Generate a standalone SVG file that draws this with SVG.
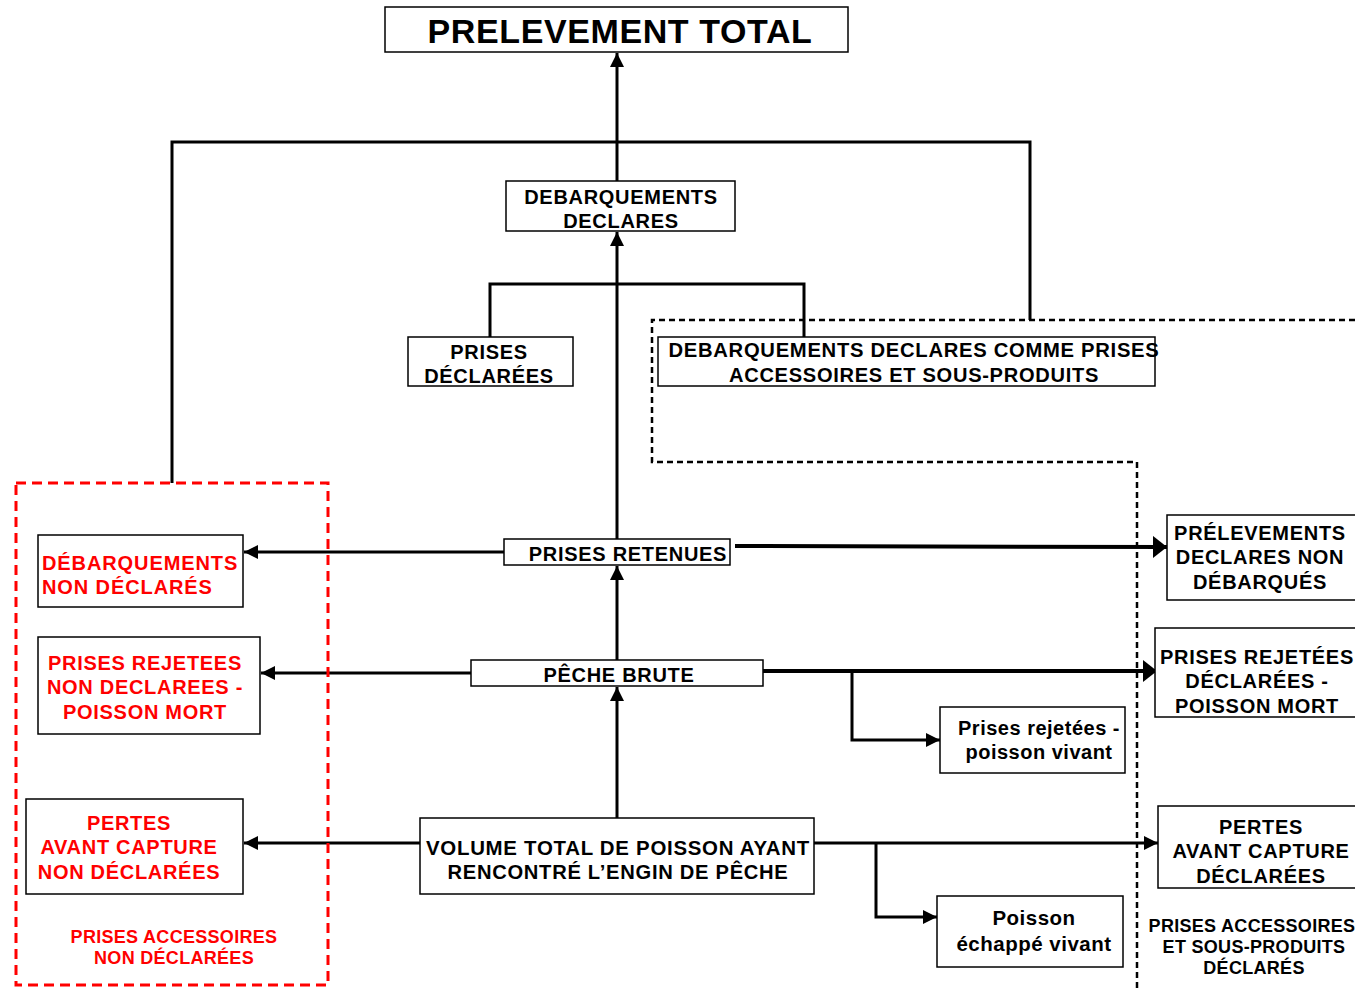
<svg xmlns="http://www.w3.org/2000/svg" width="1355" height="992" viewBox="0 0 1355 992">
<defs>
<style>
.box{fill:#fff;stroke:#000;stroke-width:1.5}
.t{font-family:"Liberation Sans",Arial,sans-serif;font-weight:bold;font-size:20px;fill:#000;text-anchor:middle;letter-spacing:0.7px}
.r{fill:#f00}
.s{font-size:18px;letter-spacing:0.3px}
.l{font-size:20px;letter-spacing:0.5px}
.c{fill:none;stroke:#000;stroke-width:3}
.ct{fill:none;stroke:#000;stroke-width:4}
</style>
<marker id="a" markerUnits="userSpaceOnUse" markerWidth="14" markerHeight="14" refX="14" refY="7" orient="auto" viewBox="0 0 14 14"><path d="M0,0 L14,7 L0,14 z" fill="#000"/></marker>
<marker id="ab" markerUnits="userSpaceOnUse" markerWidth="14" markerHeight="22" refX="14" refY="11" orient="auto" viewBox="0 0 14 22"><path d="M0,0 L14,11 L0,22 z" fill="#000"/></marker>
</defs>
<rect width="1355" height="992" fill="#fff"/>

<g id="connectors">
<line class="c" x1="617" y1="181" x2="617" y2="53" marker-end="url(#a)"/>
<polyline class="c" points="172,483 172,142 1030,142 1030,320"/>
<line class="c" x1="617" y1="539" x2="617" y2="232" marker-end="url(#a)"/>
<polyline class="c" points="490,337 490,284 804,284 804,337"/>
<line class="c" x1="617" y1="660" x2="617" y2="566" marker-end="url(#a)"/>
<line class="c" x1="617" y1="818" x2="617" y2="687" marker-end="url(#a)"/>
<line class="c" x1="504" y1="552" x2="244" y2="552" marker-end="url(#a)"/>
<line class="ct" x1="735" y1="546" x2="1167" y2="547" marker-end="url(#ab)"/>
<line class="c" x1="471" y1="673" x2="261" y2="673" marker-end="url(#a)"/>
<line class="ct" x1="763" y1="671" x2="1157" y2="671" marker-end="url(#ab)"/>
<polyline class="c" points="852,671 852,740 940,740" marker-end="url(#a)"/>
<line class="c" x1="420" y1="843" x2="244" y2="843" marker-end="url(#a)"/>
<line class="c" x1="814" y1="843" x2="1158" y2="843" marker-end="url(#a)"/>
<polyline class="c" points="876,843 876,917 937,917" marker-end="url(#a)"/>
</g>

<g id="zone-declared">
<polyline points="1355,320 652,320 652,462 1137,462 1137,992" fill="none" stroke="#000" stroke-width="2.5" stroke-dasharray="6,4"/>
<text class="t s" x="1252" y="932">PRISES ACCESSOIRES</text>
<text class="t s" x="1254" y="953">ET SOUS-PRODUITS</text>
<text class="t s" x="1254" y="974">DÉCLARÉS</text>
</g>

<g id="zone-undeclared">
<rect x="16" y="483" width="312" height="502" fill="none" stroke="#f00" stroke-width="3" stroke-dasharray="10,6"/>
<text class="t s r" x="174" y="943">PRISES ACCESSOIRES</text>
<text class="t s r" x="174" y="964">NON DÉCLARÉES</text>
</g>

<g id="prelevement-total">
<rect class="box" x="385" y="7" width="463" height="45"/>
<text class="t" x="620" y="43" style="font-size:34px;letter-spacing:0.6px">PRELEVEMENT TOTAL</text>
</g>

<g id="debarquements-declares">
<rect class="box" x="506" y="181" width="229" height="50"/>
<text class="t" x="621" y="204">DEBARQUEMENTS</text>
<text class="t" x="621" y="228">DECLARES</text>
</g>

<g id="prises-declarees">
<rect class="box" x="408" y="337" width="165" height="49"/>
<text class="t" x="489" y="359">PRISES</text>
<text class="t" x="489" y="383">DÉCLARÉES</text>
</g>

<g id="debarquements-accessoires">
<rect class="box" x="658" y="337" width="497" height="49"/>
<text class="t" x="914" y="357" textLength="491" lengthAdjust="spacingAndGlyphs">DEBARQUEMENTS DECLARES COMME PRISES</text>
<text class="t" x="914" y="382" textLength="370" lengthAdjust="spacingAndGlyphs">ACCESSOIRES ET SOUS-PRODUITS</text>
</g>

<g id="prises-retenues">
<rect class="box" x="504" y="539" width="226" height="26"/>
<text class="t" x="628" y="561">PRISES RETENUES</text>
</g>

<g id="peche-brute">
<rect class="box" x="471" y="660" width="292" height="26"/>
<text class="t" x="619" y="682">PÊCHE BRUTE</text>
</g>

<g id="volume-total">
<rect class="box" x="420" y="818" width="394" height="76"/>
<text class="t" x="618" y="855" textLength="384" lengthAdjust="spacingAndGlyphs">VOLUME TOTAL DE POISSON AYANT</text>
<text class="t" x="618" y="879" textLength="341" lengthAdjust="spacingAndGlyphs">RENCONTRÉ L’ENGIN DE PÊCHE</text>
</g>

<g id="debarquements-non-declares">
<rect class="box" x="38" y="535" width="205" height="72"/>
<text class="t r" x="42" y="570" style="text-anchor:start;letter-spacing:0.9px">DÉBARQUEMENTS</text>
<text class="t r" x="42" y="594" style="text-anchor:start;letter-spacing:0.9px">NON DÉCLARÉS</text>
</g>

<g id="rejetees-non-declarees">
<rect class="box" x="38" y="637" width="222" height="97"/>
<text class="t r" x="145" y="670">PRISES REJETEES</text>
<text class="t r" x="145" y="694">NON DECLAREES -</text>
<text class="t r" x="145" y="719">POISSON MORT</text>
</g>

<g id="pertes-non-declarees">
<rect class="box" x="26" y="799" width="217" height="95"/>
<text class="t r" x="129" y="830">PERTES</text>
<text class="t r" x="129" y="854">AVANT CAPTURE</text>
<text class="t r" x="129" y="879">NON DÉCLARÉES</text>
</g>

<g id="prelevements-non-debarques">
<rect class="box" x="1167" y="515" width="195" height="85"/>
<text class="t" x="1260" y="540">PRÉLEVEMENTS</text>
<text class="t" x="1260" y="564">DECLARES NON</text>
<text class="t" x="1260" y="589">DÉBARQUÉS</text>
</g>

<g id="rejetees-declarees">
<rect class="box" x="1155" y="628" width="207" height="89"/>
<text class="t" x="1257" y="664">PRISES REJETÉES</text>
<text class="t" x="1257" y="688">DÉCLARÉES -</text>
<text class="t" x="1257" y="713">POISSON MORT</text>
</g>

<g id="rejetees-vivant">
<rect class="box" x="940" y="707" width="185" height="66"/>
<text class="t l" x="1039" y="735">Prises rejetées -</text>
<text class="t l" x="1039" y="759">poisson vivant</text>
</g>

<g id="pertes-declarees">
<rect class="box" x="1158" y="806" width="204" height="82"/>
<text class="t" x="1261" y="834">PERTES</text>
<text class="t" x="1261" y="858">AVANT CAPTURE</text>
<text class="t" x="1261" y="883">DÉCLARÉES</text>
</g>

<g id="echappe-vivant">
<rect class="box" x="937" y="896" width="186" height="71"/>
<text class="t l" x="1034" y="925" style="font-size:20.5px">Poisson</text>
<text class="t l" x="1034" y="951" style="font-size:20.5px">échappé vivant</text>
</g>
</svg>
